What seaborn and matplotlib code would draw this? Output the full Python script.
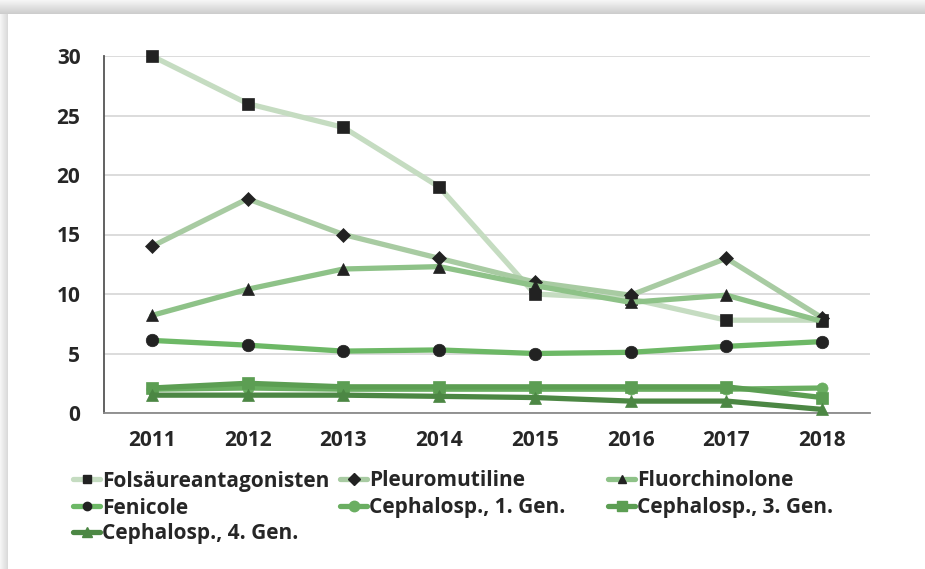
import matplotlib
matplotlib.use("Agg")
import matplotlib.pyplot as plt
import seaborn as sns
import numpy as np
import pandas as pd
from matplotlib.lines import Line2D
from matplotlib.patches import Rectangle

years = [2011, 2012, 2013, 2014, 2015, 2016, 2017, 2018]
series_names = ["Folsäureantagonisten", "Pleuromutiline", "Fluorchinolone", "Fenicole",
                "Cephalosp., 1. Gen.", "Cephalosp., 3. Gen.", "Cephalosp., 4. Gen."]
folsaeure = [30, 26, 24, 19, 10, 9.6, 7.8, 7.8]
pleuromutiline = [14, 18, 15, 13, 11, 9.9, 13, 8.0]
fluorchinolone = [8.2, 10.4, 12.1, 12.3, 10.7, 9.3, 9.9, 7.7]
fenicole = [6.1, 5.7, 5.2, 5.3, 5.0, 5.1, 5.6, 6.0]
ceph1 = [2.0, 2.1, 2.0, 2.0, 2.0, 2.0, 2.0, 2.1]
ceph3 = [2.1, 2.5, 2.2, 2.2, 2.2, 2.2, 2.2, 1.3]
ceph4 = [1.5, 1.5, 1.5, 1.4, 1.3, 1.0, 1.0, 0.3]
y_ticks = [0, 5, 10, 15, 20, 25, 30]

values = [folsaeure, pleuromutiline, fluorchinolone, fenicole, ceph1, ceph3, ceph4]
line_colors = ["#c5dcc1", "#a8cba2", "#8ec288", "#6db866", "#6aae61", "#5c9e53", "#4c8744"]
markers = ["s", "D", "^", "o", "o", "s", "^"]
marker_sizes = [8.5, 7, 8.5, 9, 8, 8, 8]
marker_face = ["#222222"] * 4 + line_colors[4:]

df = pd.DataFrame({
    "Jahr": np.tile(years, len(series_names)),
    "Wert": np.concatenate(values),
    "Serie": np.repeat(series_names, len(years)),
})

sns.set_theme(style="white")
FONT = ["Open Sans", "DejaVu Sans"]
plt.rcParams["font.family"] = FONT

fig = plt.figure(figsize=(9.25, 5.69), dpi=100)
fig.patch.set_facecolor("#ffffff")

# card shadow background
W, H = 925, 569
for i in range(14):
    g = 0.96 - 0.012 * i
    fig.patches.append(Rectangle((0, 1 - (i + 1) / H), 1, 1 / H, transform=fig.transFigure,
                                 facecolor=(g, g, g), edgecolor="none", zorder=0))
for i in range(8):
    g = 0.96 - 0.015 * i
    fig.patches.append(Rectangle((i / W, 0), 1 / W, 1 - 14 / H, transform=fig.transFigure,
                                 facecolor=(g, g, g), edgecolor="none", zorder=0))

ax = fig.add_axes([104 / W, 1 - 413 / H, (870 - 104) / W, (413 - 56) / H])
ax.set_facecolor("none")

for name, col, mk, ms, mf in zip(series_names, line_colors, markers, marker_sizes, marker_face):
    sub = df[df["Serie"] == name]
    sns.lineplot(data=sub, x="Jahr", y="Wert", ax=ax, color=col, linewidth=3.8,
                 marker=mk, markersize=ms, markerfacecolor=mf, markeredgecolor=mf,
                 markeredgewidth=0.5, legend=False, zorder=3, clip_on=False)

ax.set_xlim(years[0] - 0.5, years[-1] + 0.5)
ax.set_ylim(0, 30)
ax.set_yticks(y_ticks)
ax.set_xticks(years)
ax.set_xticklabels([str(y) for y in years])
ax.set_xlabel("")
ax.set_ylabel("")
ax.grid(axis="y", color="#d9d9d9", linewidth=1.3)
ax.grid(axis="x", visible=False)
for s in ["top", "right"]:
    ax.spines[s].set_visible(False)
ax.spines["left"].set_color("#555555")
ax.spines["left"].set_linewidth(1.3)
ax.spines["bottom"].set_color("#8a8a8a")
ax.spines["bottom"].set_linewidth(1.3)
ax.tick_params(axis="both", length=0, labelsize=15, colors="#262626")
ax.tick_params(axis="y", pad=17)
ax.tick_params(axis="x", pad=12)
for lab in ax.get_xticklabels() + ax.get_yticklabels():
    lab.set_fontweight("bold")

# legend: 3 uniform columns
col_x = [73, 340, 608]
row_y = [481, 508, 534]
for i, (name, col, mk, mf) in enumerate(zip(series_names, line_colors, markers, marker_face)):
    r, c = divmod(i, 3)
    h = Line2D([0], [0], color=col, linewidth=3.8, marker=mk,
               markersize=6 if i < 4 else 7.5, markerfacecolor=mf, markeredgecolor=mf)
    leg = fig.legend(handles=[h], labels=[name], loc="center left",
                     bbox_to_anchor=(col_x[c] / W, 1 - row_y[r] / H),
                     frameon=False, handlelength=1.3, handletextpad=0.1,
                     borderpad=0, borderaxespad=0,
                     prop={"family": FONT, "weight": "bold", "size": 15})
    for t in leg.get_texts():
        t.set_color("#262626")

fig.savefig("out.png", dpi=100)
